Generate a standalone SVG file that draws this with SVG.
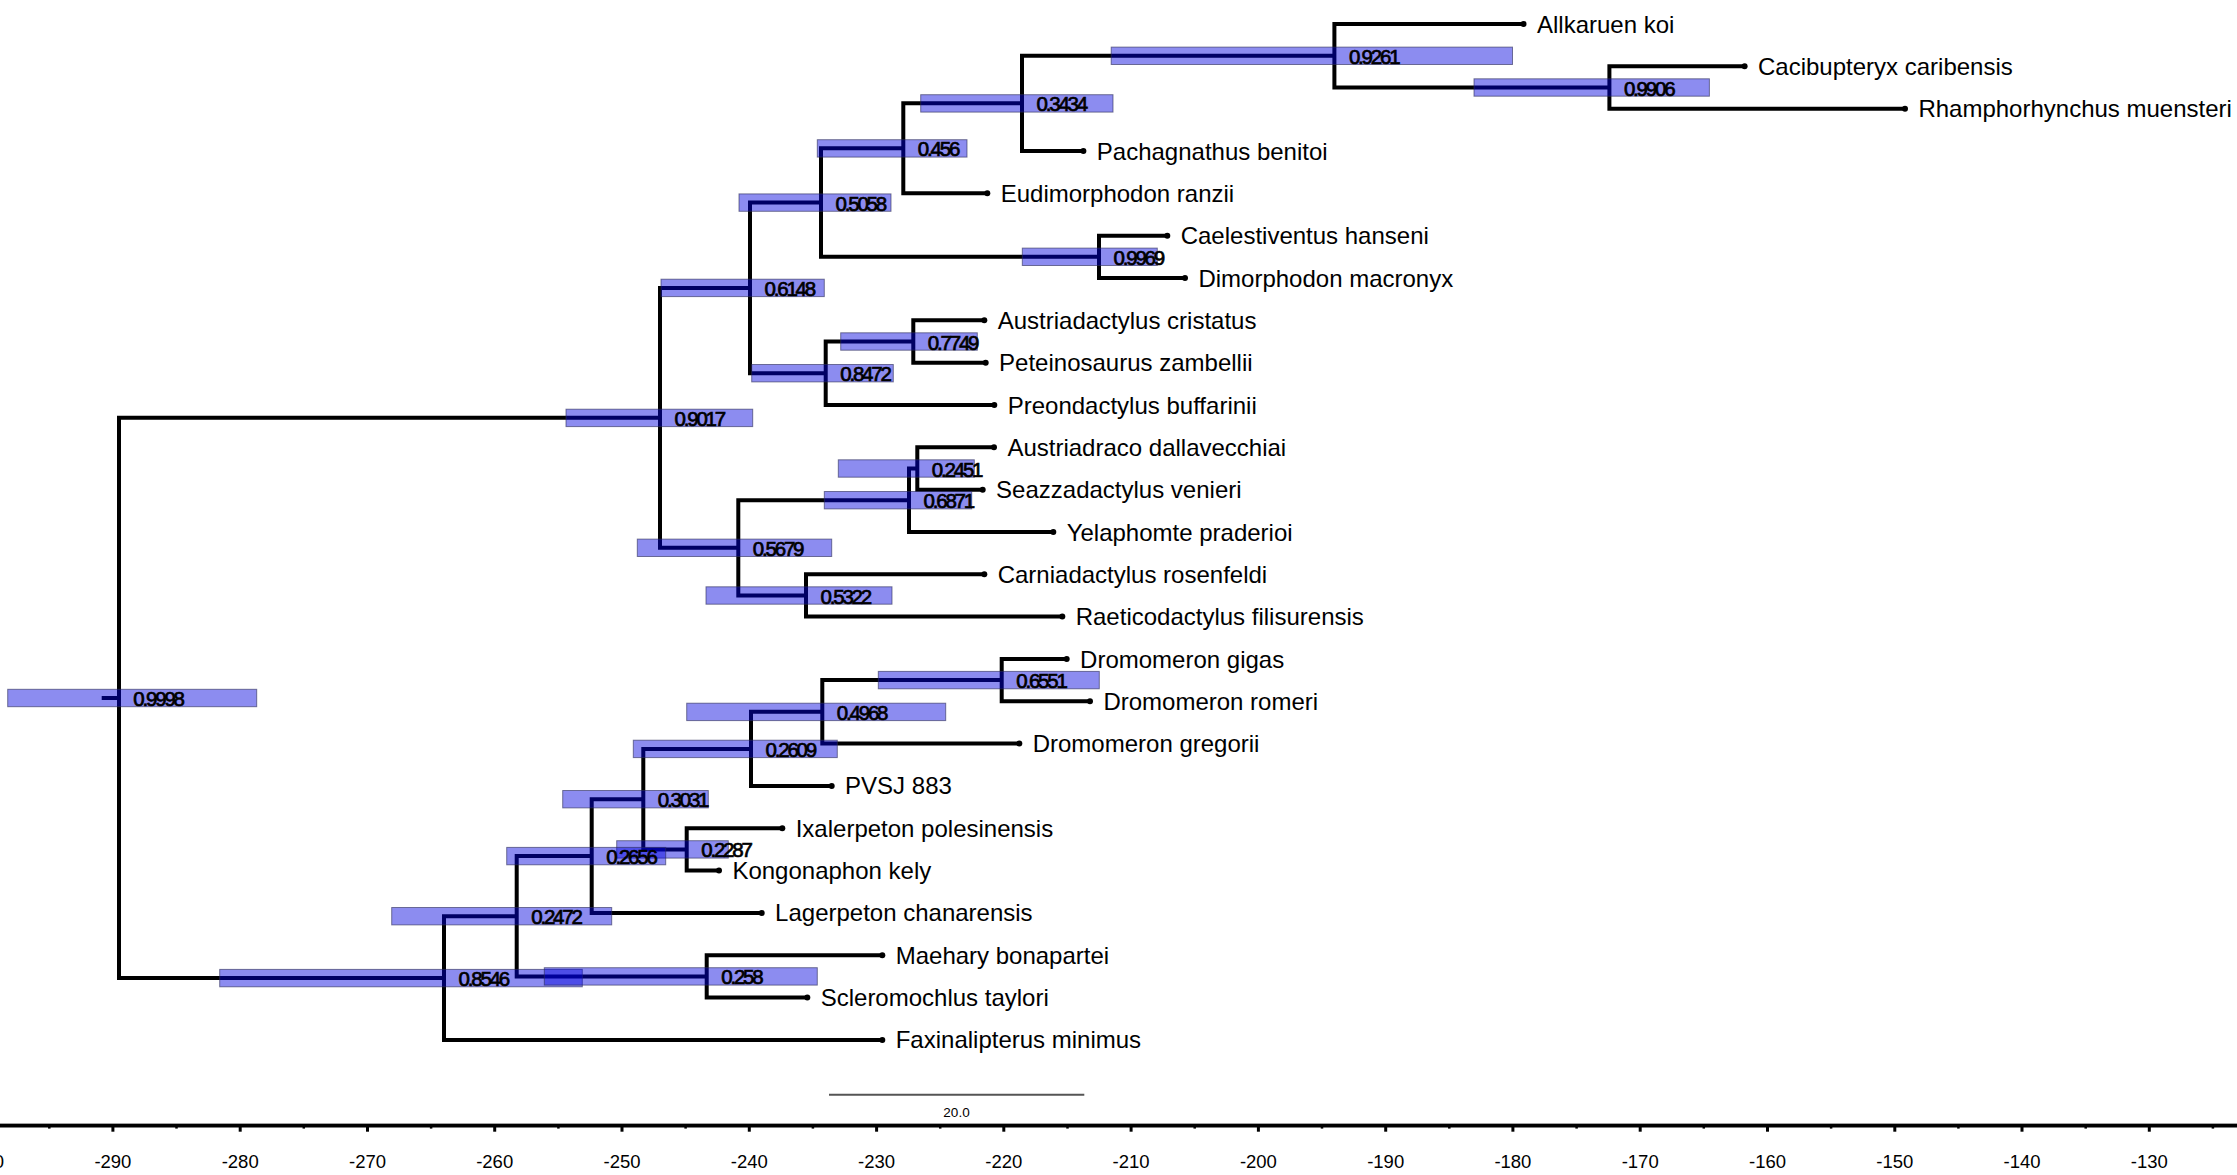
<svg xmlns="http://www.w3.org/2000/svg" width="2237" height="1175" viewBox="0 0 2237 1175">
<style>
.br{fill:none;stroke:#000;stroke-width:4;stroke-linejoin:miter;stroke-linecap:butt}
.hpd{fill:#0000de;fill-opacity:0.45;stroke:#2a2a55;stroke-opacity:0.6;stroke-width:1}
.pp{font-family:"Liberation Sans",Arial,sans-serif;font-size:20.5px;letter-spacing:-2.2px;fill:#000;stroke:#000;stroke-width:0.7}
.tip{fill:#000}
.tax{font-family:"Liberation Sans",Arial,sans-serif;font-size:24px;fill:#000}
.tick{stroke:#000;stroke-width:3}
.mtick{stroke:#000;stroke-width:2.5}
.axl{font-family:"Liberation Sans",Arial,sans-serif;font-size:18.5px;fill:#000;text-anchor:middle}
</style>
<rect width="2237" height="1175" fill="#fff"/>
<g id="connectors" class="br">
<path d="M101.7 698 H119"/>
<path d="M660 417.87 H119 V978.08 H444"/>
<path d="M750 287.9 H660 V547.83 H738.3"/>
<path d="M821 202.58 H750 V373.22 H825.7"/>
<path d="M903.3 148.35 H821 V256.82 H1099"/>
<path d="M1022 103.37 H903.3 V193.32 H987.3"/>
<path d="M1334.4 55.75 H1022 V150.99 H1083.4"/>
<path d="M1523.5 24 H1334.4 V87.5 H1609.4"/>
<path d="M1744.6 66.33 H1609.4 V108.66 H1905"/>
<path d="M1167.3 235.65 H1099 V277.98 H1185"/>
<path d="M913.3 341.48 H825.7 V404.97 H994.3"/>
<path d="M984.3 320.31 H913.3 V362.64 H985.7"/>
<path d="M909 500.21 H738.3 V595.46 H806"/>
<path d="M917.3 468.47 H909 V531.96 H1053.3"/>
<path d="M994 447.3 H917.3 V489.63 H982.7"/>
<path d="M984.3 574.29 H806 V616.62 H1062.3"/>
<path d="M516.7 916.24 H444 V1039.92 H882.3"/>
<path d="M591.7 856.05 H516.7 V976.43 H706.7"/>
<path d="M643.3 799.17 H591.7 V912.93 H761.7"/>
<path d="M751 748.9 H643.3 V849.44 H686.7"/>
<path d="M822.3 711.86 H751 V785.94 H831.7"/>
<path d="M1001.7 680.12 H822.3 V743.61 H1019.3"/>
<path d="M1066.7 658.95 H1001.7 V701.28 H1090"/>
<path d="M782.3 828.27 H686.7 V870.6 H719"/>
<path d="M882.3 955.26 H706.7 V997.59 H807.3"/>
</g>
<g id="nodes">
<g id="node-root"><rect class="hpd" x="7.7" y="689.3" width="249" height="17.4"/><text class="pp" x="133.3" y="706">0.9998</text></g>
<g id="node-0_9017"><rect class="hpd" x="566" y="409.2" width="186.7" height="17.4"/><text class="pp" x="674.5" y="425.9">0.9017</text></g>
<g id="node-0_6148"><rect class="hpd" x="661" y="279.2" width="163.3" height="17.4"/><text class="pp" x="764.5" y="295.9">0.6148</text></g>
<g id="node-0_5058"><rect class="hpd" x="739" y="193.9" width="152" height="17.4"/><text class="pp" x="835.5" y="210.6">0.5058</text></g>
<g id="node-0_456"><rect class="hpd" x="817.3" y="139.7" width="149.7" height="17.4"/><text class="pp" x="917.8" y="156.4">0.456</text></g>
<g id="node-0_3434"><rect class="hpd" x="920.7" y="94.7" width="192.3" height="17.4"/><text class="pp" x="1036.5" y="111.4">0.3434</text></g>
<g id="node-0_9261"><rect class="hpd" x="1111.2" y="47.1" width="401.3" height="17.4"/><text class="pp" x="1348.9" y="63.8">0.9261</text></g>
<g id="node-0_9906"><rect class="hpd" x="1474" y="78.8" width="235.4" height="17.4"/><text class="pp" x="1623.9" y="95.5">0.9906</text></g>
<g id="node-0_9969"><rect class="hpd" x="1022.3" y="248.1" width="135" height="17.4"/><text class="pp" x="1113.5" y="264.8">0.9969</text></g>
<g id="node-0_8472"><rect class="hpd" x="751.7" y="364.5" width="141.6" height="17.4"/><text class="pp" x="840.2" y="381.2">0.8472</text></g>
<g id="node-0_7749"><rect class="hpd" x="840.7" y="332.8" width="136.6" height="17.4"/><text class="pp" x="927.8" y="349.5">0.7749</text></g>
<g id="node-0_5679"><rect class="hpd" x="637.3" y="539.1" width="194.4" height="17.4"/><text class="pp" x="752.8" y="555.8">0.5679</text></g>
<g id="node-0_6871"><rect class="hpd" x="824.3" y="491.5" width="147.4" height="17.4"/><text class="pp" x="923.5" y="508.2">0.6871</text></g>
<g id="node-0_2451"><rect class="hpd" x="838.3" y="459.8" width="136" height="17.4"/><text class="pp" x="931.8" y="476.5">0.2451</text></g>
<g id="node-0_5322"><rect class="hpd" x="706" y="586.8" width="186" height="17.4"/><text class="pp" x="820.5" y="603.5">0.5322</text></g>
<g id="node-0_6551"><rect class="hpd" x="878.3" y="671.4" width="221" height="17.4"/><text class="pp" x="1016.2" y="688.1">0.6551</text></g>
<g id="node-0_4968"><rect class="hpd" x="686.7" y="703.2" width="259" height="17.4"/><text class="pp" x="836.8" y="719.9">0.4968</text></g>
<g id="node-0_2609"><rect class="hpd" x="633.3" y="740.2" width="204" height="17.4"/><text class="pp" x="765.5" y="756.9">0.2609</text></g>
<g id="node-0_3031"><rect class="hpd" x="562.7" y="790.5" width="145.6" height="17.4"/><text class="pp" x="657.8" y="807.2">0.3031</text></g>
<g id="node-0_2287"><rect class="hpd" x="616.7" y="840.7" width="111.6" height="17.4"/><text class="pp" x="701.2" y="857.4">0.2287</text></g>
<g id="node-0_2656"><rect class="hpd" x="506.7" y="847.4" width="159" height="17.4"/><text class="pp" x="606.2" y="864.1">0.2656</text></g>
<g id="node-0_2472"><rect class="hpd" x="391.7" y="907.5" width="220" height="17.4"/><text class="pp" x="531.2" y="924.2">0.2472</text></g>
<g id="node-0_8546"><rect class="hpd" x="219.7" y="969.4" width="362.6" height="17.4"/><text class="pp" x="458.5" y="986.1">0.8546</text></g>
<g id="node-0_258"><rect class="hpd" x="544.3" y="967.7" width="273" height="17.4"/><text class="pp" x="721.2" y="984.4">0.258</text></g>
</g>
<g id="tips">
<g id="tip-allkaruen"><circle class="tip" cx="1523.5" cy="24" r="3"/><text class="tax" x="1537" y="32.5">Allkaruen koi</text></g>
<g id="tip-cacibupteryx"><circle class="tip" cx="1744.6" cy="66.33" r="3"/><text class="tax" x="1758" y="74.8">Cacibupteryx caribensis</text></g>
<g id="tip-rhamphorhynchus"><circle class="tip" cx="1905" cy="108.66" r="3"/><text class="tax" x="1918.4" y="117.2">Rhamphorhynchus muensteri</text></g>
<g id="tip-pachagnathus"><circle class="tip" cx="1083.4" cy="150.99" r="3"/><text class="tax" x="1096.8" y="159.5">Pachagnathus benitoi</text></g>
<g id="tip-eudimorphodon"><circle class="tip" cx="987.3" cy="193.32" r="3"/><text class="tax" x="1000.7" y="201.8">Eudimorphodon ranzii</text></g>
<g id="tip-caelestiventus"><circle class="tip" cx="1167.3" cy="235.65" r="3"/><text class="tax" x="1180.7" y="244.2">Caelestiventus hanseni</text></g>
<g id="tip-dimorphodon"><circle class="tip" cx="1185" cy="277.98" r="3"/><text class="tax" x="1198.4" y="286.5">Dimorphodon macronyx</text></g>
<g id="tip-austriadactylus"><circle class="tip" cx="984.3" cy="320.31" r="3"/><text class="tax" x="997.7" y="328.8">Austriadactylus cristatus</text></g>
<g id="tip-peteinosaurus"><circle class="tip" cx="985.7" cy="362.64" r="3"/><text class="tax" x="999.1" y="371.1">Peteinosaurus zambellii</text></g>
<g id="tip-preondactylus"><circle class="tip" cx="994.3" cy="404.97" r="3"/><text class="tax" x="1007.7" y="413.5">Preondactylus buffarinii</text></g>
<g id="tip-austriadraco"><circle class="tip" cx="994" cy="447.3" r="3"/><text class="tax" x="1007.4" y="455.8">Austriadraco dallavecchiai</text></g>
<g id="tip-seazzadactylus"><circle class="tip" cx="982.7" cy="489.63" r="3"/><text class="tax" x="996.1" y="498.1">Seazzadactylus venieri</text></g>
<g id="tip-yelaphomte"><circle class="tip" cx="1053.3" cy="531.96" r="3"/><text class="tax" x="1066.7" y="540.5">Yelaphomte praderioi</text></g>
<g id="tip-carniadactylus"><circle class="tip" cx="984.3" cy="574.29" r="3"/><text class="tax" x="997.7" y="582.8">Carniadactylus rosenfeldi</text></g>
<g id="tip-raeticodactylus"><circle class="tip" cx="1062.3" cy="616.62" r="3"/><text class="tax" x="1075.7" y="625.1">Raeticodactylus filisurensis</text></g>
<g id="tip-dromomeron-gigas"><circle class="tip" cx="1066.7" cy="658.95" r="3"/><text class="tax" x="1080.1" y="667.5">Dromomeron gigas</text></g>
<g id="tip-dromomeron-romeri"><circle class="tip" cx="1090" cy="701.28" r="3"/><text class="tax" x="1103.4" y="709.8">Dromomeron romeri</text></g>
<g id="tip-dromomeron-gregorii"><circle class="tip" cx="1019.3" cy="743.61" r="3"/><text class="tax" x="1032.7" y="752.1">Dromomeron gregorii</text></g>
<g id="tip-pvsj883"><circle class="tip" cx="831.7" cy="785.94" r="3"/><text class="tax" x="845.1" y="794.4">PVSJ 883</text></g>
<g id="tip-ixalerpeton"><circle class="tip" cx="782.3" cy="828.27" r="3"/><text class="tax" x="795.7" y="836.8">Ixalerpeton polesinensis</text></g>
<g id="tip-kongonaphon"><circle class="tip" cx="719" cy="870.6" r="3"/><text class="tax" x="732.4" y="879.1">Kongonaphon kely</text></g>
<g id="tip-lagerpeton"><circle class="tip" cx="761.7" cy="912.93" r="3"/><text class="tax" x="775.1" y="921.4">Lagerpeton chanarensis</text></g>
<g id="tip-maehary"><circle class="tip" cx="882.3" cy="955.26" r="3"/><text class="tax" x="895.7" y="963.8">Maehary bonapartei</text></g>
<g id="tip-scleromochlus"><circle class="tip" cx="807.3" cy="997.59" r="3"/><text class="tax" x="820.7" y="1006.1">Scleromochlus taylori</text></g>
<g id="tip-faxinalipterus"><circle class="tip" cx="882.3" cy="1039.92" r="3"/><text class="tax" x="895.7" y="1048.4">Faxinalipterus minimus</text></g>
</g>
<g id="scale-bar">
<line x1="829" y1="1094.7" x2="1084.3" y2="1094.7" stroke="#555" stroke-width="2"/>
<text x="956.5" y="1116.5" font-family="Liberation Sans, Arial, sans-serif" font-size="13.5" text-anchor="middle" fill="#000">20.0</text>
</g>
<g id="axis">
<line x1="0" y1="1123.6" x2="2237" y2="1123.6" stroke="#999" stroke-width="1"/>
<line x1="0" y1="1125.8" x2="2237" y2="1125.8" stroke="#000" stroke-width="3.6"/>
<g class="tick">
<line x1="112.9" y1="1125" x2="112.9" y2="1131.7"/>
<line x1="240.2" y1="1125" x2="240.2" y2="1131.7"/>
<line x1="367.5" y1="1125" x2="367.5" y2="1131.7"/>
<line x1="494.7" y1="1125" x2="494.7" y2="1131.7"/>
<line x1="622" y1="1125" x2="622" y2="1131.7"/>
<line x1="749.3" y1="1125" x2="749.3" y2="1131.7"/>
<line x1="876.6" y1="1125" x2="876.6" y2="1131.7"/>
<line x1="1003.8" y1="1125" x2="1003.8" y2="1131.7"/>
<line x1="1131.1" y1="1125" x2="1131.1" y2="1131.7"/>
<line x1="1258.4" y1="1125" x2="1258.4" y2="1131.7"/>
<line x1="1385.7" y1="1125" x2="1385.7" y2="1131.7"/>
<line x1="1512.9" y1="1125" x2="1512.9" y2="1131.7"/>
<line x1="1640.2" y1="1125" x2="1640.2" y2="1131.7"/>
<line x1="1767.5" y1="1125" x2="1767.5" y2="1131.7"/>
<line x1="1894.8" y1="1125" x2="1894.8" y2="1131.7"/>
<line x1="2022" y1="1125" x2="2022" y2="1131.7"/>
<line x1="2149.3" y1="1125" x2="2149.3" y2="1131.7"/>
</g>
<g class="mtick">
<line x1="49.3" y1="1125" x2="49.3" y2="1128.6"/>
<line x1="176.5" y1="1125" x2="176.5" y2="1128.6"/>
<line x1="303.8" y1="1125" x2="303.8" y2="1128.6"/>
<line x1="431.1" y1="1125" x2="431.1" y2="1128.6"/>
<line x1="558.4" y1="1125" x2="558.4" y2="1128.6"/>
<line x1="685.6" y1="1125" x2="685.6" y2="1128.6"/>
<line x1="812.9" y1="1125" x2="812.9" y2="1128.6"/>
<line x1="940.2" y1="1125" x2="940.2" y2="1128.6"/>
<line x1="1067.5" y1="1125" x2="1067.5" y2="1128.6"/>
<line x1="1194.7" y1="1125" x2="1194.7" y2="1128.6"/>
<line x1="1322" y1="1125" x2="1322" y2="1128.6"/>
<line x1="1449.3" y1="1125" x2="1449.3" y2="1128.6"/>
<line x1="1576.6" y1="1125" x2="1576.6" y2="1128.6"/>
<line x1="1703.8" y1="1125" x2="1703.8" y2="1128.6"/>
<line x1="1831.1" y1="1125" x2="1831.1" y2="1128.6"/>
<line x1="1958.4" y1="1125" x2="1958.4" y2="1128.6"/>
<line x1="2085.7" y1="1125" x2="2085.7" y2="1128.6"/>
<line x1="2212.9" y1="1125" x2="2212.9" y2="1128.6"/>
</g>
<g class="axl">
<text x="-14.4" y="1167.5">-300</text>
<text x="112.9" y="1167.5">-290</text>
<text x="240.2" y="1167.5">-280</text>
<text x="367.5" y="1167.5">-270</text>
<text x="494.7" y="1167.5">-260</text>
<text x="622" y="1167.5">-250</text>
<text x="749.3" y="1167.5">-240</text>
<text x="876.6" y="1167.5">-230</text>
<text x="1003.8" y="1167.5">-220</text>
<text x="1131.1" y="1167.5">-210</text>
<text x="1258.4" y="1167.5">-200</text>
<text x="1385.7" y="1167.5">-190</text>
<text x="1512.9" y="1167.5">-180</text>
<text x="1640.2" y="1167.5">-170</text>
<text x="1767.5" y="1167.5">-160</text>
<text x="1894.8" y="1167.5">-150</text>
<text x="2022" y="1167.5">-140</text>
<text x="2149.3" y="1167.5">-130</text>
</g>
</g>
</svg>
